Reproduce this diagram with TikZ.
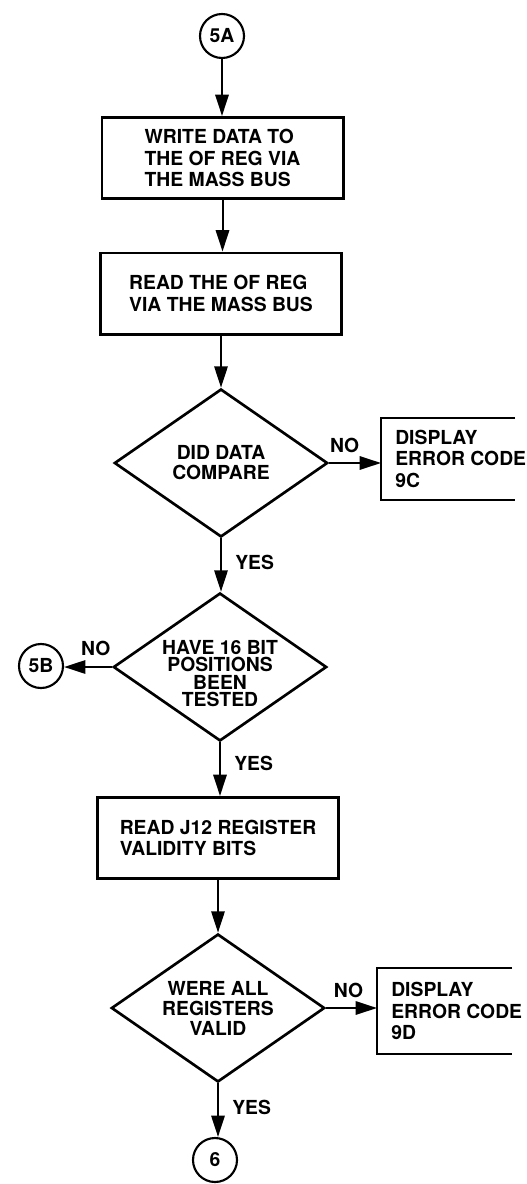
\documentclass[tikz,border=0pt]{standalone}
\usepackage{fontspec}
\setmainfont{TeX Gyre Heros}
\usepackage{tikz}
\usetikzlibrary{arrows.meta,positioning,shapes.geometric}

\begin{document}
\begin{tikzpicture}[x=0.75pt,y=-0.75pt,>={Triangle[length=16pt,width=10pt]},
  font=\fontsize{14.5}{16}\selectfont\bfseries,
  bx/.style={draw,line width=2pt,minimum width=181pt,minimum height=61pt,align=left,inner sep=0pt},
  dc/.style={diamond,draw,line width=2pt,minimum width=160pt,minimum height=111pt,inner sep=0pt},
  dtx/.style={align=center,inner sep=0pt,font=\fontsize{14.5}{15}\selectfont\bfseries},
  cn/.style={circle,draw,line width=1.6pt,minimum size=33pt,inner sep=0pt},
  eb/.style={anchor=north west,minimum height=61pt,inner xsep=10.5pt,inner ysep=0pt,align=left},
  bxl/.style={line width=2pt},
  ed/.style={->,line width=1.5pt},
  lab/.style={inner sep=1pt}]
\useasboundingbox (0,0) rectangle (526,1184);
\node[cn] (c5a) at (222,36) {5A};
\node[bx] (b1) at (222.5,158) {WRITE DATA TO\\THE OF REG VIA\\THE MASS BUS};
\node[bx] (b2) at (221,293.5) {READ THE OF REG\\VIA THE MASS BUS};
\node[dc,label={[dtx]center:{DID DATA\\COMPARE}}] (d1) at (221,463) {};
\node[eb] (e1) at (381,418) {DISPLAY\\ERROR CODE\\9C};
\node[dc,label={[dtx,yshift=-5pt,font=\fontsize{14.5}{13}\selectfont\bfseries]center:{HAVE 16 BIT\\POSITIONS\\BEEN\\TESTED}}] (d2) at (220,667) {};
\node[cn] (c5b) at (41,666) {5B};
\node[bx] (b3) at (218,838) {READ J12 REGISTER\\VALIDITY BITS};
\node[dc,label={[dtx]center:{WERE ALL\\REGISTERS\\VALID}}] (d3) at (218,1008) {};
\node[eb,minimum height=64pt] (e2) at (377,968) {DISPLAY\\ERROR CODE\\9D};
\node[cn] (c6) at (215,1160) {6};
\draw[ed] (c5a.south) -- (c5a.south |- b1.north);
\draw[ed] (b1.south) -- (b1.south |- b2.north);
\draw[ed] (b2.south) -- (b2.south |- d1.north);
\draw[ed] (d1.east) -- (d1.east -| e1.west) node[lab,above=6pt,pos=.3] (n1) {NO};
\draw[bxl] (e1.north west) ++(134,0) -- (e1.north west) -- (e1.south west) -- ++(134,0);
\draw[ed] (d1.south) -- (d1.south |- d2.north) node[lab,right=9pt,pos=.45] (y1) {YES};
\draw[ed] (d2.west) -- (d2.west -| c5b.east) node[lab,above=7pt,pos=.34] (n2) {NO};
\draw[ed] (d2.south) -- (d2.south |- b3.north) node[lab,right=9pt,pos=.4] (y2) {YES};
\draw[ed] (b3.south) -- (b3.south |- d3.north);
\draw[ed] (d3.east) -- (d3.east -| e2.west) node[lab,above=6pt,pos=.44] (n3) {NO};
\draw[bxl] (e2.north west) ++(135,0) -- (e2.north west) -- (e2.south west) -- ++(135,0);
\draw[ed] (d3.south) -- (d3.south |- c6.north) node[lab,right=9pt,pos=.45] (y3) {YES};
\end{tikzpicture}
\end{document}
